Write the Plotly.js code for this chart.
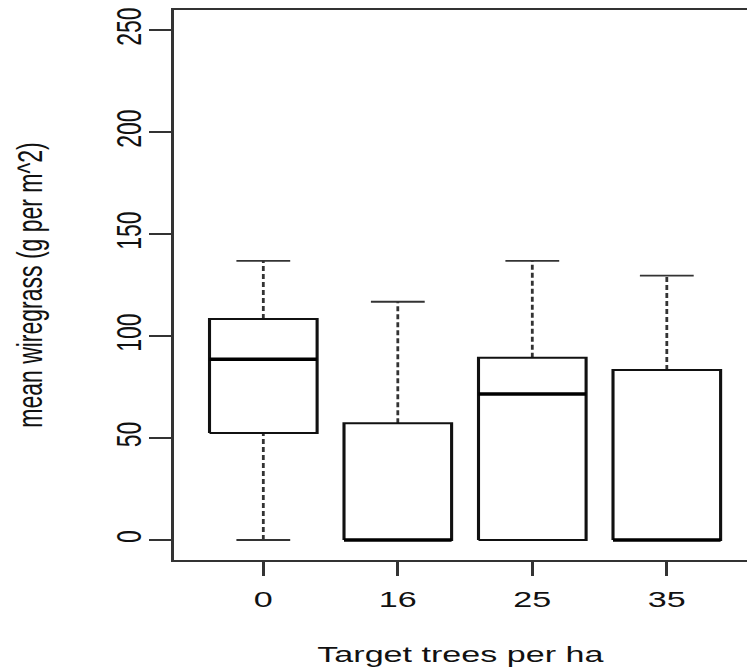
<!DOCTYPE html>
<html>
<head>
<meta charset="utf-8">
<script src="https://cdn.plot.ly/plotly-3.0.1.min.js"></script>
<style>
  html, body { margin: 0; padding: 0; background: #fff; overflow: hidden; }
  #plot { width: 482px; height: 667px; transform: scaleX(1.55); transform-origin: 0 0; }
</style>
</head>
<body>
<div id="plot"></div>
<script>
// Data (R-style boxplot)
const categories = ['0', '16', '25', '35'];
const lowerWhisker = [0, 0, 0, 0];
const q1 = [52.5, 0, 0, 0];
const median = [88.6, 0, 71.6, 0];
const q3 = [108.3, 57.2, 89.4, 83.3];
const upperWhisker = [136.8, 116.8, 136.8, 129.6];
const yTicks = [0, 50, 100, 150, 200, 250];

const positions = categories.map((c, i) => i + 1);
const halfBox = 0.4, halfCap = 0.2;

const traces = [];
positions.forEach((p, i) => {
  // whiskers (dashed)
  traces.push({
    type: 'scatter', mode: 'lines', hoverinfo: 'skip', showlegend: false,
    x: [p, p, null, p, p],
    y: [q3[i], upperWhisker[i], null, lowerWhisker[i], q1[i]],
    line: { color: '#333', width: 1.8, dash: '5px,3px' }
  });
  // caps
  traces.push({
    type: 'scatter', mode: 'lines', hoverinfo: 'skip', showlegend: false,
    x: [p - halfCap, p + halfCap, null, p - halfCap, p + halfCap],
    y: [upperWhisker[i], upperWhisker[i], null, lowerWhisker[i], lowerWhisker[i]],
    line: { color: '#333', width: 1.8 }
  });
  // box
  traces.push({
    type: 'scatter', mode: 'lines', hoverinfo: 'skip', showlegend: false,
    x: [p - halfBox, p + halfBox, p + halfBox, p - halfBox, p - halfBox],
    y: [q1[i], q1[i], q3[i], q3[i], q1[i]],
    fill: 'toself', fillcolor: '#ffffff',
    line: { color: '#111', width: 2 }
  });
  // median
  traces.push({
    type: 'scatter', mode: 'lines', hoverinfo: 'skip', showlegend: false,
    x: [p - halfBox, p + halfBox],
    y: [median[i], median[i]],
    line: { color: '#000', width: 3.6 }
  });
});

const font = { family: 'Liberation Sans, Arial, sans-serif', size: 22, color: '#111' };

const layout = {
  width: 482, height: 667,
  margin: { l: 112, r: 0, t: 10, b: 107 },
  paper_bgcolor: '#fff', plot_bgcolor: '#fff',
  showlegend: false,
  font: font,
  xaxis: {
    range: [0.333, 4.597],
    tickvals: positions, ticktext: categories,
    showgrid: false, zeroline: false,
    showline: true, mirror: true, linecolor: '#333', linewidth: 1.8,
    ticks: 'outside', ticklen: 14, tickwidth: 1.8, tickcolor: '#333',
    ticklabelstandoff: 5,
    tickfont: font,
    title: { text: 'Target trees per ha', font: font, standoff: 40 }
  },
  yaxis: {
    range: [-9.8, 259.8],
    tickvals: yTicks, ticktext: yTicks.map(String),
    tickangle: -90,
    showgrid: false, zeroline: false,
    showline: true, mirror: false, linecolor: '#333', linewidth: 1.8,
    ticks: 'outside', ticklen: 14, tickwidth: 1.8, tickcolor: '#333',
    ticklabelstandoff: -4,
    tickfont: Object.assign({}, font, { size: 23 }),
    title: { text: 'mean wiregrass (g per m^2)', font: Object.assign({}, font, { size: 23 }), standoff: 36 }
  }
};

Plotly.newPlot('plot', traces, layout, { staticPlot: true, displayModeBar: false });
</script>
</body>
</html>
